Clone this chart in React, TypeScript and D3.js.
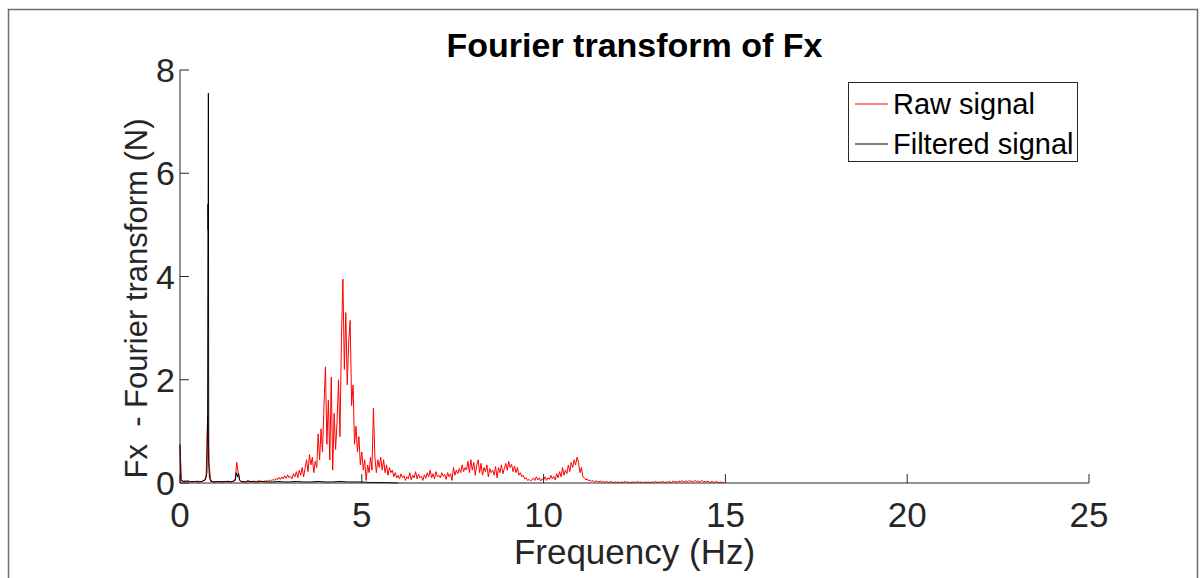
import React from "react";
import * as d3 from "d3";

// Raw signal spectrum, frequency bins every 0.04 Hz starting at 0 Hz
const rawBinHz = 0.04;
const rawValues: number[] = [
  // 0.00 - 0.96
  0.72, 0.06, 0.03, 0.04, 0.02, 0.03, 0.04, 0.02, 0.03, 0.02, 0.03, 0.02, 0.04, 0.03, 0.02, 0.03, 0.04, 0.06, 0.15, 1.3, 0.35, 0.08, 0.03, 0.02, 0.03,
  // 1.00 - 1.96
  0.02, 0.03, 0.02, 0.02, 0.03, 0.02, 0.03, 0.02, 0.04, 0.03, 0.02, 0.03, 0.04, 0.08, 0.4, 0.2, 0.06, 0.03, 0.02, 0.03, 0.02, 0.04, 0.05, 0.03, 0.02,
  // 2.00 - 2.96
  0.03, 0.04, 0.02, 0.03, 0.05, 0.03, 0.04, 0.02, 0.04, 0.03, 0.05, 0.03, 0.06, 0.04, 0.07, 0.05, 0.09, 0.06, 0.11, 0.07, 0.12, 0.08, 0.14, 0.09, 0.16,
  // 3.00 - 3.96
  0.1, 0.13, 0.08, 0.18, 0.12, 0.22, 0.1, 0.25, 0.15, 0.3, 0.12, 0.28, 0.45, 0.22, 0.55, 0.35, 0.5, 0.2, 0.42, 0.3, 0.95, 0.45, 1.05, 0.6, 1.5,
  // 4.00 - 4.96
  2.25, 0.75, 1.6, 0.45, 2.05, 0.25, 1.35, 0.65, 1.2, 2.0, 0.9, 2.8, 3.95, 2.2, 3.3, 1.9, 2.75, 3.15, 1.5, 1.9, 0.75, 1.1, 0.6, 0.9, 0.35,
  // 5.00 - 5.96
  0.6, 0.25, 0.45, 0.05, 0.35, 0.2, 0.5, 0.25, 1.45, 0.5, 0.2, 0.45, 0.3, 0.5, 0.25, 0.45, 0.2, 0.35, 0.15, 0.3, 0.2, 0.25, 0.12, 0.2, 0.1,
  // 6.00 - 6.96
  0.15, 0.08, 0.18, 0.1, 0.14, 0.05, 0.12, 0.08, 0.2, 0.06, 0.15, 0.1, 0.22, 0.08, 0.17, 0.1, 0.13, 0.05, 0.16, 0.09, 0.2, 0.12, 0.25, 0.1, 0.18,
  // 7.00 - 7.96
  0.08, 0.22, 0.12, 0.15, 0.1, 0.2, 0.13, 0.17, 0.07, 0.2, 0.12, 0.18, 0.05, 0.3, 0.15, 0.25, 0.18, 0.28, 0.2, 0.35, 0.22, 0.3, 0.25, 0.42, 0.2,
  // 8.00 - 8.96
  0.45, 0.25, 0.4, 0.15, 0.35, 0.45, 0.2, 0.38, 0.15, 0.3, 0.22, 0.35, 0.12, 0.28, 0.2, 0.25, 0.15, 0.32, 0.1, 0.3, 0.2, 0.35, 0.18, 0.28, 0.38,
  // 9.00 - 9.96
  0.25, 0.42, 0.3, 0.36, 0.22, 0.33, 0.2, 0.3, 0.15, 0.2, 0.12, 0.15, 0.08, 0.1, 0.05, 0.07, 0.04, 0.06, 0.1, 0.05, 0.12, 0.06, 0.1, 0.04, 0.08,
  // 10.00 - 10.96
  0.06, 0.12, 0.05, 0.1, 0.07, 0.15, 0.08, 0.13, 0.06, 0.18, 0.1, 0.22, 0.12, 0.3, 0.15, 0.25, 0.18, 0.35, 0.22, 0.4, 0.3, 0.45, 0.35, 0.5, 0.4,
  // 11.00 - 11.96
  0.2, 0.3, 0.12, 0.1, 0.06, 0.08, 0.04, 0.06, 0.03, 0.05, 0.02, 0.04, 0.03, 0.02, 0.04, 0.02, 0.03, 0.01, 0.03, 0.02, 0.01, 0.03, 0.02, 0.01, 0.02,
  // 12.00 - 12.96
  0.01, 0.02, 0.01, 0.01, 0.02, 0.01, 0.03, 0.01, 0.02, 0.01, 0.01, 0.02, 0.01, 0.02, 0.01, 0.03, 0.01, 0.02, 0.01, 0.01, 0.02, 0.01, 0.02, 0.01, 0.01,
  // 13.00 - 13.96
  0.02, 0.01, 0.03, 0.01, 0.02, 0.01, 0.02, 0.03, 0.01, 0.02, 0.01, 0.03, 0.02, 0.01, 0.04, 0.02, 0.03, 0.01, 0.04, 0.02, 0.05, 0.02, 0.03, 0.04, 0.02,
  // 14.00 - 14.96
  0.05, 0.03, 0.04, 0.02, 0.05, 0.03, 0.04, 0.02, 0.03, 0.05, 0.02, 0.03, 0.02, 0.04, 0.01, 0.02, 0.03, 0.01, 0.02, 0.03, 0.01, 0.01, 0.02, 0.01, 0.0,
];

// Filtered signal spectrum (explicit frequency / value pairs)
const filteredFreq: number[] = [
  0, 0.02, 0.1, 0.2, 0.3, 0.4, 0.5, 0.6, 0.7, 0.74, 0.76, 0.77, 0.775, 0.78, 0.79, 0.81, 0.85, 0.95, 1.05, 1.15, 1.25, 1.35, 1.45, 1.52,
  1.55, 1.58, 1.61, 1.64, 1.68, 1.8, 1.95, 2.1, 2.25, 2.4, 2.55, 2.7, 2.85, 3.0, 3.2, 3.4, 3.6, 3.8, 4.0, 4.2, 4.4, 4.6, 4.8, 5.0, 5.2,
  5.5, 6.0,
];
const filteredValues: number[] = [
  0.75, 0.05, 0.03, 0.04, 0.02, 0.03, 0.02, 0.03, 0.06, 0.2, 1.3, 5.4, 4.9, 7.55, 0.4, 0.1, 0.03, 0.02, 0.03, 0.02, 0.03, 0.02, 0.03, 0.05,
  0.2, 0.12, 0.19, 0.05, 0.03, 0.02, 0.03, 0.02, 0.03, 0.02, 0.02, 0.03, 0.02, 0.02, 0.03, 0.02, 0.02, 0.03, 0.02, 0.02, 0.03, 0.02, 0.02, 0.02, 0.01,
  0.01, 0.0,
];

const xTicks = [0, 5, 10, 15, 20, 25];
const yTicks = [0, 2, 4, 6, 8];
const titleText = "Fourier transform of Fx";
const xLabel = "Frequency (Hz)";
const yLabel = "Fx  - Fourier transform (N)";
const legendLabels = ["Raw signal", "Filtered signal"];
const seriesColors = ["#ff0000", "#000000"];

const W = 1204;
const H = 578;
const FONT = "'Liberation Sans', Arial, Helvetica, sans-serif";

export default function App() {
  const left = 180;
  const right = 1089;
  const top = 70;
  const bottom = 483;
  const x = d3.scaleLinear().domain([0, 25]).range([left, right]);
  const y = d3.scaleLinear().domain([0, 8]).range([bottom, top]);

  const rawPts: [number, number][] = rawValues.map((v, i) => [i * rawBinHz, v]);
  const filtPts: [number, number][] = filteredFreq.map((f, i) => [f, filteredValues[i]]);
  const line = d3
    .line<[number, number]>()
    .x((d) => x(d[0]))
    .y((d) => y(d[1]));

  const axisColor = "#262626";
  const tickLen = 9;

  return (
    <svg
      width={W}
      height={H}
      style={{ position: "absolute", left: 0, top: 0, background: "#fff" }}
      fontFamily={FONT}
    >
      <rect x={0} y={0} width={W} height={H} fill="#fff" />
      {/* figure frame */}
      <path d={`M8.5,${H} V9.5 H1197.5 V${H}`} fill="none" stroke="#6e6e6e" strokeWidth={1.5} />

      {/* data */}
      <path d={line(rawPts) || ""} fill="none" stroke={seriesColors[0]} strokeWidth={1} />
      <path d={line(filtPts) || ""} fill="none" stroke={seriesColors[1]} strokeWidth={1} />

      {/* axes */}
      <line x1={left} x2={right} y1={bottom} y2={bottom} stroke={axisColor} strokeWidth={1} />
      <line x1={left} x2={left} y1={bottom} y2={top} stroke={axisColor} strokeWidth={1} />
      {xTicks.map((t) => (
        <g key={"x" + t}>
          <line x1={x(t)} x2={x(t)} y1={bottom} y2={bottom - tickLen} stroke={axisColor} strokeWidth={1} />
          <text x={x(t)} y={bottom + 44} textAnchor="middle" fontSize={35} fill={axisColor}>
            {t}
          </text>
        </g>
      ))}
      {yTicks.map((t) => (
        <g key={"y" + t}>
          <line x1={left} x2={left + tickLen} y1={y(t)} y2={y(t)} stroke={axisColor} strokeWidth={1} />
          <text x={left - 5} y={y(t) + 12} textAnchor="end" fontSize={34} fill={axisColor}>
            {t}
          </text>
        </g>
      ))}

      {/* labels */}
      <text x={(left + right) / 2} y={57} textAnchor="middle" fontSize={34} fontWeight="bold" fill="#000">
        {titleText}
      </text>
      <text x={(left + right) / 2} y={564} textAnchor="middle" fontSize={35} fill={axisColor}>
        {xLabel}
      </text>
      <text
        transform={`translate(147, ${(top + bottom) / 2 + 22}) rotate(-90)`}
        textAnchor="middle"
        fontSize={31}
        fill={axisColor}
        style={{ whiteSpace: "pre" }}
      >
        {yLabel}
      </text>

      {/* legend */}
      <rect x={848.5} y={82.5} width={229} height={79} fill="#fff" stroke="#262626" strokeWidth={1} />
      {legendLabels.map((lab, i) => (
        <g key={lab}>
          <line x1={855} x2={888} y1={104 + i * 40} y2={104 + i * 40} stroke={seriesColors[i]} strokeWidth={1} />
          <text x={893} y={114 + i * 40} fontSize={29} fill="#000">
            {lab}
          </text>
        </g>
      ))}
    </svg>
  );
}
